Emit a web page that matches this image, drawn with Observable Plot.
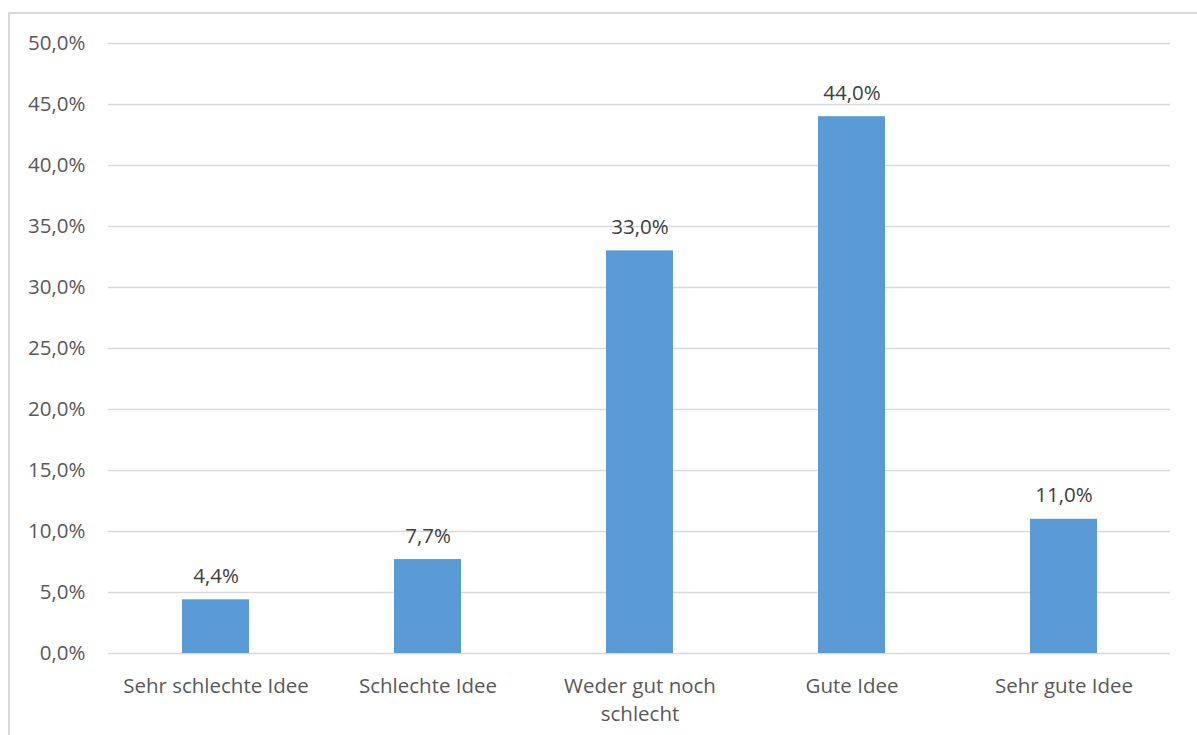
<!DOCTYPE html>
<html>
<head>
<meta charset="utf-8">
<script src="https://cdn.jsdelivr.net/npm/d3@7"></script>
<script src="https://cdn.jsdelivr.net/npm/@observablehq/plot@0.6"></script>
<style>
  html, body { margin: 0; padding: 0; background: #fff; overflow: hidden; }
  #wrap { position: relative; width: 1197px; height: 735px; }
  #border { position: absolute; left: 8px; top: 12px; width: 1300px; height: 900px;
            border: 2px solid #d9d9d9; box-sizing: border-box; }
  #chart { position: absolute; left: 0; top: 0; }
</style>
</head>
<body>
<div id="wrap"><div id="border"></div><div id="chart"></div></div>
<script>
const categories = ["Sehr schlechte Idee", "Schlechte Idee", "Weder gut noch schlecht", "Gute Idee", "Sehr gute Idee"];
const values = [4.4, 7.7, 33.0, 44.0, 11.0];
const yTicks = [0, 5, 10, 15, 20, 25, 30, 35, 40, 45, 50];

const data = categories.map((c, i) => ({category: c, value: values[i]}));
const fmt = d => d.toFixed(1).replace(".", ",") + "%";
const font = "'Open Sans', sans-serif";
const fs = 20.5;

const chart = Plot.plot({
  width: 1197,
  height: 735,
  marginLeft: 108,
  marginRight: 27,
  marginTop: 43,
  marginBottom: 82,
  style: {fontFamily: font, fontSize: fs + "px", color: "#595959", background: "transparent"},
  x: {domain: categories, paddingInner: 0.685, paddingOuter: 0.3425, align: 0.5},
  y: {domain: [0, 50]},
  marks: [
    Plot.ruleY(yTicks, {stroke: "#d9d9d9", strokeWidth: 1.5}),
    Plot.barY(data, {x: "category", y: "value", fill: "#5b9bd5"}),
    Plot.text(data, {x: "category", y: "value", text: d => fmt(d.value), lineAnchor: "bottom", dy: -17, fill: "#404040", fontSize: fs}),
    Plot.axisY({ticks: yTicks, tickFormat: fmt, tickSize: 0, tickPadding: 23, fill: "#595959", fontSize: fs, label: null}),
    Plot.axisX({tickSize: 0, tickPadding: 19, fill: "#595959", fontSize: fs, label: null, lineHeight: 1.38,
      tickFormat: d => d.replace("gut noch ", "gut noch\n")})
  ]
});
document.getElementById("chart").appendChild(chart);
</script>
</body>
</html>
